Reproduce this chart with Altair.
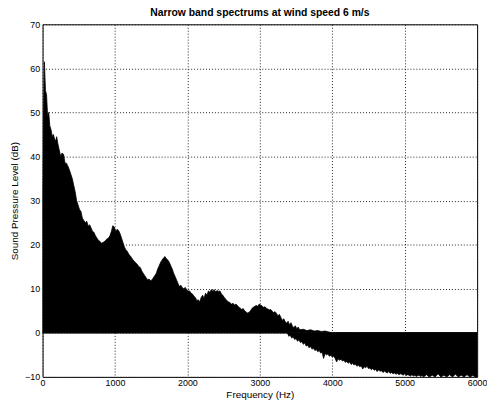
import altair as alt
import pandas as pd

# Upper envelope of the spectrum (dB)
up_freq = [0, 10, 25, 40, 55, 70, 85, 100, 118, 135, 150, 165, 180, 195, 210, 230, 250, 270, 290, 310,
           330, 350, 370, 390, 410, 430, 450, 470, 490, 510, 530, 550, 570, 590, 610, 630, 650, 670, 690, 710,
           730, 750, 770, 790, 810, 830, 850, 870, 890, 910, 930, 950, 970, 990, 1010, 1030, 1050, 1070, 1090, 1110,
           1130, 1150, 1170, 1190, 1210, 1230, 1250, 1270, 1290, 1310, 1330, 1350, 1370, 1390, 1410, 1430, 1450, 1470, 1490, 1510,
           1530, 1550, 1570, 1590, 1610, 1630, 1650, 1670, 1690, 1710, 1730, 1750, 1770, 1790, 1810, 1830, 1850, 1870, 1890, 1910,
           1930, 1950, 1970, 1990, 2010, 2030, 2050, 2070, 2090, 2110, 2130, 2150, 2170, 2190, 2210, 2230, 2250, 2270, 2290, 2310,
           2330, 2350, 2370, 2390, 2410, 2430, 2450, 2470, 2490, 2510, 2530, 2550, 2570, 2590, 2610, 2630, 2650, 2670, 2690, 2710,
           2730, 2750, 2770, 2790, 2810, 2830, 2850, 2870, 2890, 2910, 2930, 2950, 2970, 2990, 3010, 3030, 3050, 3070, 3090, 3110,
           3130, 3150, 3170, 3190, 3210, 3230, 3250, 3270, 3290, 3310, 3330, 3350, 3370, 3390, 3410, 3430, 3450, 3470, 3490, 3510,
           3530, 3550, 3600, 3650, 3700, 3750, 3800, 3850, 3900, 3950, 4000, 6000]
up_db = [30, 45, 61.5, 55, 54, 49, 50, 47, 46, 44.5, 45, 44, 43.5, 44.5, 43, 41.5, 40, 40.8, 40.5, 38.5,
         38.5, 37.8, 37, 36, 35, 33.5, 32, 30, 29, 28, 27.5, 26, 25.5, 25, 25.3, 24.2, 24.5, 23.8, 23, 22.8,
         22, 21.5, 21, 20.8, 20.3, 20.5, 20.6, 21, 21.3, 21.5, 22, 23, 24.3, 24, 23, 23.5, 23.2, 22.5, 21.5, 20.5,
         19.5, 18.8, 18.5, 17.8, 17.5, 17, 16.5, 16.2, 15.8, 15.5, 15, 14.8, 14, 13.5, 13, 12.5, 12, 12.2, 11.8, 12,
         12.5, 13, 13.5, 14.5, 15.2, 16, 16.5, 17, 17.3, 16.8, 16.5, 16, 15.2, 14.5, 13.5, 12.8, 12, 11.2, 10.5, 10.8,
         10.2, 10, 10.3, 9.8, 9.5, 9.5, 9, 8.8, 8.3, 8, 7.3, 7.5, 7, 8, 8.5, 7.8, 9, 8.5, 9.5, 9.2,
         9.8, 9.5, 9.8, 9.3, 9.6, 9.4, 9.5, 8.8, 8.5, 8, 7.6, 7.2, 7, 6.8, 6.5, 6.7, 6.3, 6.5, 6.2, 5.8,
         5.6, 5.3, 5.5, 5, 4.7, 4.5, 4.6, 5, 5.5, 5.8, 6, 6.2, 6, 6.5, 6.3, 6.1, 5.8, 5.9, 5.6, 5.4,
         5.2, 5.3, 4.9, 4.6, 4.8, 4.4, 3.8, 4.2, 3.5, 2.8, 3.2, 2.5, 2.2, 2.6, 1.8, 2.3, 1.5, 1.2, 1.6, 0.9,
         1.3, 0.7, 0.8, 0.5, 0.7, 0.4, 0.5, 0.3, 0.4, 0.2, 0, 0]

# Lower envelope (dB, below zero)
lo_freq = [0, 3380, 3400, 3420, 3440, 3460, 3480, 3500, 3520, 3540, 3560, 3580, 3600, 3620, 3640, 3660, 3680, 3700,
           3720, 3740, 3760, 3780, 3800, 3820, 3840, 3860, 3880, 3900, 3920, 3940, 3960, 3980, 4000, 4020, 4040, 4060,
           4080, 4100, 4120, 4140, 4160, 4180, 4200, 4220, 4240, 4260, 4280, 4300, 4320, 4340, 4360, 4380, 4400, 4420,
           4440, 4460, 4480, 4500, 4520, 4540, 4560, 4580, 4600, 4620, 4640, 4660, 4680, 4700, 4720, 4740, 4760, 4780,
           4800, 4820, 4840, 4860, 4880, 4900, 4920, 4940, 4960, 4980, 5000, 5020, 5040, 5060, 5080, 5100, 5120, 5140,
           5160, 5180, 5200, 5220, 5240, 5260, 5300, 5340, 5380, 5420, 5460, 5500, 5540, 5580, 5620, 5660, 5700, 5740,
           5780, 5820, 5860, 5900, 5940, 5980, 6000]
lo_db = [0, 0, -0.8, -0.5, -1.2, -0.9, -1.5, -1.3, -1.9, -1.6, -2.2, -2.0, -2.6, -2.3, -3.0, -2.8, -3.4, -3.1,
         -3.7, -3.5, -4.0, -3.8, -4.3, -4.0, -4.6, -4.4, -5.8, -4.7, -5.0, -4.8, -5.3, -5.1, -5.5, -5.3, -5.8, -6.6,
         -5.9, -6.2, -6.0, -6.4, -6.2, -6.7, -6.5, -6.9, -6.6, -7.2, -6.9, -7.3, -7.1, -7.6, -7.3, -7.7, -7.5, -8.2,
         -7.7, -7.9, -7.6, -8.1, -8.0, -8.4, -8.1, -8.5, -8.3, -8.8, -8.4, -8.7, -8.6, -9.0, -8.7, -8.9, -9.1, -8.8,
         -9.2, -9.0, -9.3, -9.1, -9.4, -9.2, -9.5, -9.3, -9.4, -9.6, -9.3, -9.7, -9.5, -9.6, -9.8, -9.5, -9.8, -9.6,
         -9.9, -9.7, -9.6, -9.9, -9.7, -10, -9.5, -10, -9.6, -10, -9.3, -10, -9.6, -10, -9.5, -10, -9.4, -10,
         -9.6, -10, -9.5, -10, -9.7, -10, -10]

x_ticks = [0, 1000, 2000, 3000, 4000, 5000, 6000]
y_ticks = [-10, 0, 10, 20, 30, 40, 50, 60, 70]

up_df = pd.DataFrame({"f": up_freq, "db": up_db})
lo_df = pd.DataFrame({"f": lo_freq, "db": lo_db})

FONT = "Liberation Sans, Arial, sans-serif"

xs = alt.Scale(domain=[0, 6000], nice=False, zero=False)
ys = alt.Scale(domain=[-10, 70], nice=False, zero=False)

grid_style = dict(grid=True, gridColor="#222222", gridDash=[1, 2], gridOpacity=1, gridWidth=1)

x_axis = alt.Axis(values=x_ticks, title="Frequency (Hz)", labelFlush=False, ticks=False,
                  labelPadding=2, labelFontSize=9, titleFontSize=10,
                  labelFont=FONT, titleFont=FONT, titleFontWeight="normal",
                  labelColor="black", titleColor="black",
                  titleX=220, titleY=18, titleBaseline="middle",
                  domain=False, format="d", **grid_style)
y_axis = alt.Axis(values=y_ticks, title="Sound Pressure Level (dB)", ticks=False,
                  labelPadding=3, labelFontSize=9, titleFontSize=10,
                  labelFont=FONT, titleFont=FONT, titleFontWeight="normal",
                  labelColor="black", titleColor="black",
                  titleX=-28, titleY=178.5, titleBaseline="middle", titleAlign="center",
                  domain=False, labelFlush=False, **grid_style)

upper = alt.Chart(up_df).mark_area(color="black", stroke="black", strokeWidth=0.8,
                                  interpolate="linear", clip=True).encode(
    x=alt.X("f:Q", scale=xs, axis=x_axis),
    y=alt.Y("db:Q", scale=ys, axis=y_axis),
    y2=alt.datum(0),
)

lower = alt.Chart(lo_df).mark_area(color="black", stroke="black", strokeWidth=0.8,
                                  interpolate="linear", clip=True).encode(
    x=alt.X("f:Q", scale=xs),
    y=alt.Y("db:Q", scale=ys),
    y2=alt.datum(0),
)

chart = alt.layer(upper, lower).properties(
    width=440,
    height=357,
    background="white",
    title=alt.TitleParams("Narrow band spectrums at wind speed 6 m/s", fontSize=10.5,
                          fontWeight="bold", font=FONT, anchor="middle", offset=2, color="black"),
    autosize=alt.AutoSizeParams(type="none"),
    padding={"left": 35, "top": 14, "right": 10, "bottom": 30},
).configure_view(
    stroke="black", strokeWidth=1
)

chart.save("out.html", embed_options={"renderer": "svg", "actions": False})
